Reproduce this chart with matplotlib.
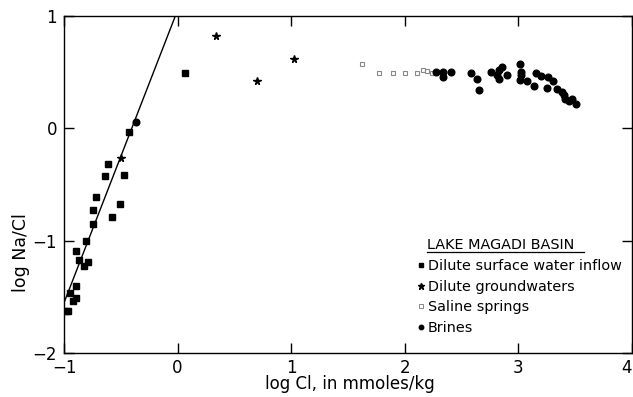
import matplotlib
matplotlib.use("Agg")
import matplotlib.pyplot as plt
from matplotlib.lines import Line2D

# ---- data ----
surface_x = [0.068, -0.429, -0.613, -0.642, -0.473, -0.719, -0.505, -0.741, -0.581,
             -0.743, -0.809, -0.897, -0.870, -0.822, -0.789, -0.897, -0.947, -0.918,
             -0.895, -0.967, -0.985]
surface_y = [0.489, -0.033, -0.320, -0.424, -0.418, -0.613, -0.678, -0.724, -0.788,
             -0.849, -1.006, -1.095, -1.170, -1.227, -1.189, -1.404, -1.462, -1.535,
             -1.514, -1.627, -1.627]

ground_x = [-0.495, 0.336, 0.699, 1.021]
ground_y = [-0.262, 0.820, 0.424, 0.616]

saline_x = [1.621, 1.771, 1.900, 2.005, 2.111, 2.157, 2.199, 2.243]
saline_y = [0.575, 0.492, 0.492, 0.489, 0.492, 0.520, 0.507, 0.489]

brine_x = [-0.369, 2.275, 2.339, 2.339, 2.409, 2.585, 2.634, 2.656, 2.758, 2.814,
           2.827, 2.855, 2.831, 2.902, 3.013, 3.022, 3.020, 3.016, 3.073, 3.139,
           3.156, 3.196, 3.250, 3.262, 3.304, 3.341, 3.382, 3.402, 3.411, 3.446,
           3.470, 3.508]
brine_y = [0.056, 0.498, 0.500, 0.458, 0.502, 0.492, 0.436, 0.344, 0.500, 0.474,
           0.440, 0.548, 0.516, 0.476, 0.569, 0.502, 0.476, 0.427, 0.418, 0.373,
           0.492, 0.462, 0.362, 0.453, 0.422, 0.353, 0.323, 0.293, 0.260, 0.240,
           0.260, 0.220]

trend_x = [-1.0, -0.02]
trend_y = [-1.553, 1.0]

x_ticks = [-1, 0, 1, 2, 3, 4]
y_ticks = [-2, -1, 0, 1]

legend_title = "LAKE MAGADI BASIN"
legend_labels = ["Dilute surface water inflow", "Dilute groundwaters",
                 "Saline springs", "Brines"]

# ---- figure ----
plt.rcParams['font.family'] = ['DejaVu Sans']
plt.rcParams['axes.unicode_minus'] = True
fig = plt.figure(figsize=(6.33, 3.97), dpi=100)
ax = fig.add_axes([64/633, 44/397, 568/633, 337/397])

ax.plot(trend_x, trend_y, color='black', lw=1.0, zorder=2)
ax.plot(surface_x, surface_y, 's', color='black', ms=4.0, zorder=3)
ax.plot(ground_x, ground_y, '*', color='black', ms=5.5, zorder=3)
ax.plot(saline_x, saline_y, 's', mfc='none', mec='#888888', mew=0.8, ms=3.0, zorder=3)
ax.plot(brine_x, brine_y, 'o', color='black', ms=4.8, zorder=3)

ax.set_xlim(-1, 4)
ax.set_ylim(-2, 1)
ax.set_xticks(x_ticks)
ax.set_yticks(y_ticks)
ax.set_xticklabels([f"{v}".replace('-', '\u2212') for v in x_ticks])
ax.set_yticklabels([f"{v}".replace('-', '\u2212') for v in y_ticks])
ax.tick_params(axis='both', direction='in', length=7, width=1, labelsize=12,
               top=True, right=True, pad=4)
ax.tick_params(axis='y', pad=5)
ax.get_xticklabels()[-1].set_horizontalalignment('right')
for s in ax.spines.values():
    s.set_linewidth(1.0)

ax.set_xlabel("log Cl, in mmoles/kg", fontsize=12)
ax.set_ylabel("log Na/Cl", fontsize=12.5)
ax.xaxis.set_label_coords(0.504, -0.065)
ax.yaxis.set_label_coords(-0.06, 0.297)

# legend drawn as text
fs_leg = 10.4
ax.text(0.6385, 0.3086, legend_title, transform=ax.transAxes, fontsize=fs_leg,
        ha='left', va='baseline')
ax.add_line(Line2D([0.6385, 0.915], [0.2997, 0.2997], transform=ax.transAxes,
                   color='black', lw=0.9))
ys = [0.2454, 0.184, 0.1246, 0.0623]
mk = [dict(marker='s', color='black', ms=3.0),
      dict(marker='*', color='black', ms=4.5),
      dict(marker='s', mfc='none', mec='#888888', mew=0.7, ms=2.6),
      dict(marker='o', color='black', ms=3.2)]
for lab, yy, m in zip(legend_labels, ys, mk):
    ax.text(0.641, yy, lab, transform=ax.transAxes, fontsize=fs_leg,
            ha='left', va='baseline')
    ax.plot([0.629], [yy + 0.016], transform=ax.transAxes, ls='none', **m)

fig.savefig("out.png", dpi=100)
